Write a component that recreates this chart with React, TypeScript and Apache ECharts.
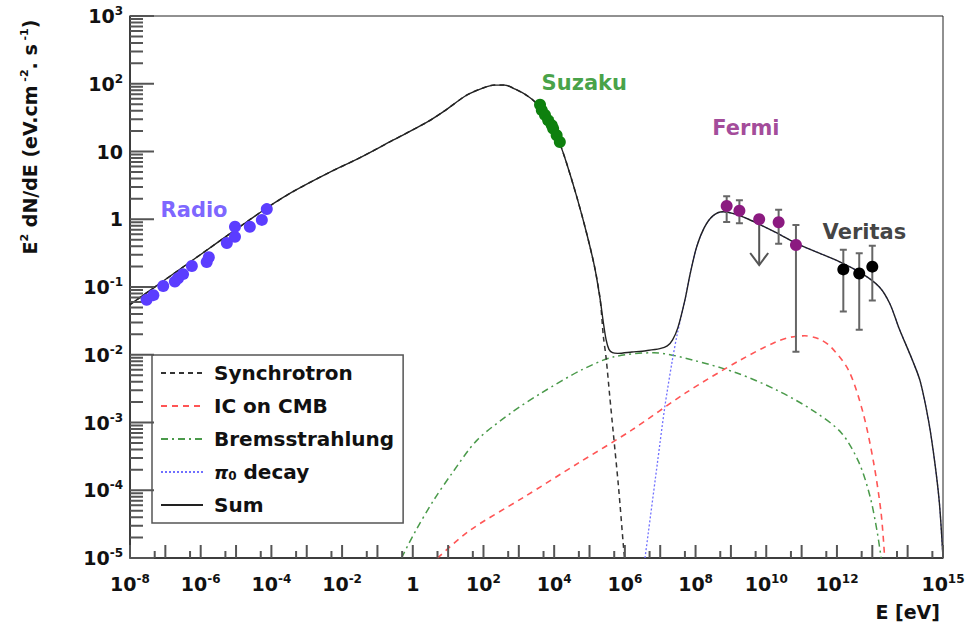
import React, { useEffect, useRef } from "react";
import * as echarts from "echarts";

// All values are decade exponents: [log10(E / eV), log10(E^2 dN/dE)]
const radioPoints = [
  [-7.53, -1.19], [-7.34, -1.12], [-7.06, -0.985], [-6.73, -0.92], [-6.64, -0.87],
  [-6.5, -0.81], [-6.25, -0.69], [-5.83, -0.63], [-5.77, -0.56], [-5.26, -0.35],
  [-5.03, -0.26], [-5.03, -0.11], [-4.61, -0.11], [-4.27, -0.01], [-4.13, 0.15],
];
const suzakuPoints = [
  [3.6, 1.69], [3.65, 1.61], [3.74, 1.54], [3.83, 1.46], [3.93, 1.39],
  [3.97, 1.34], [4.07, 1.24], [4.16, 1.14],
];
const fermiPoints = [
  [8.88, 0.195], [9.24, 0.126], [9.8, 0.0], [10.35, -0.045], [10.84, -0.38],
];
// [x, low, high]
const fermiErrors = [
  [8.88, -0.04, 0.34], [9.24, -0.06, 0.28], [10.35, -0.36, 0.14], [10.84, -1.955, -0.085],
];
// [x, from, arrow tip]
const fermiUpperLimits = [[9.8, 0.0, -0.675]];
const veritasPoints = [[12.18, -0.74], [12.63, -0.8], [13.0, -0.7]];
const veritasErrors = [[12.18, -1.36, -0.45], [12.63, -1.63, -0.5], [13.0, -1.2, -0.39]];

const sumCurve = [
  [-8, -1.26], [-7, -0.89], [-6, -0.52], [-5, -0.15], [-4.12, 0.17], [-3.38, 0.41],
  [-2.44, 0.67], [-1.49, 0.91], [-0.55, 1.17], [0.39, 1.43], [0.9, 1.6], [1.52, 1.83],
  [2.0, 1.94], [2.3, 1.98], [2.6, 1.98], [2.9, 1.92], [3.22, 1.83], [3.5, 1.71],
  [3.8, 1.5], [4.0, 1.32], [4.16, 1.12], [4.35, 0.83], [4.64, 0.33], [4.92, -0.21],
  [5.15, -0.72], [5.3, -1.18], [5.39, -1.52], [5.47, -1.78], [5.55, -1.92], [5.65, -1.97],
  [5.8, -1.98], [6.2, -1.96], [6.6, -1.94], [6.99, -1.91], [7.2, -1.87], [7.35, -1.78],
  [7.5, -1.6], [7.7, -1.19], [7.85, -0.8], [8.03, -0.41], [8.25, -0.12], [8.49, 0.05],
  [8.77, 0.11], [9.1, 0.08], [9.5, 0.0], [9.9, -0.1], [10.4, -0.23], [10.86, -0.36],
  [11.5, -0.5], [12.08, -0.63], [12.7, -0.8], [13.2, -1.0], [13.5, -1.25], [13.75, -1.6],
  [14.15, -2.1], [14.36, -2.4], [14.6, -3.0], [14.77, -3.6], [14.9, -4.2], [15, -5],
];
const synchrotronTail = [
  [5.39, -1.72], [5.47, -2.05], [5.57, -2.6], [5.67, -3.14], [5.82, -3.95], [5.96, -4.83], [5.99, -5.0],
];
const icCurve = [
  [0.7, -5], [1.62, -4.59], [3.15, -4.1], [4.68, -3.6], [6.2, -3.11], [7.73, -2.56],
  [9.26, -2.08], [10.27, -1.81], [10.7, -1.74], [11.09, -1.72], [11.5, -1.77], [11.82, -1.88],
  [12.33, -2.23], [12.74, -2.86], [13.04, -3.6], [13.25, -4.34], [13.35, -5.0],
];
const bremsCurve = [
  [-0.32, -5], [0.09, -4.59], [0.6, -4.14], [1.11, -3.75], [1.82, -3.26], [2.83, -2.84],
  [3.65, -2.56], [4.79, -2.22], [5.69, -2.03], [6.82, -1.97], [7.93, -2.08], [9.17, -2.27],
  [10.29, -2.52], [11.31, -2.82], [12.12, -3.15], [12.63, -3.6], [12.94, -4.1], [13.13, -4.59],
  [13.25, -5.0],
];
const pi0Rise = [[6.57, -5], [6.92, -3.6], [7.13, -2.77], [7.33, -2.12], [7.48, -1.7]];

const annotations = [
  { name: "Radio", value: [-7.15, 0.14], color: "#5b3dff" },
  { name: "Suzaku", value: [3.63, 2.01], color: "#178a17" },
  { name: "Fermi", value: [8.46, 1.35], color: "#8b1a80" },
  { name: "Veritas", value: [11.58, -0.19], color: "#111111" },
];

const xMin = -8, xMax = 15, yMin = -5, yMax = 3;
const xLabelExps = [-8, -6, -4, -2, 0, 2, 4, 6, 8, 10, 12, 14, 15];
const xMinorMultipliers = [5];
const yMinorMultipliers = [2, 3, 4, 5, 6, 7, 8, 9];
const legendNames = ["Synchrotron", "IC on CMB", "Bremsstrahlung", "π0 decay", "Sum"];

const FONT = "DejaVu Sans";

function powLabel(v: number): string {
  const e = Math.round(v);
  if (e === 0) return "{b|1}";
  if (e === 1) return "{b|10}";
  return "{b|10}{s|" + e + "}";
}

const tickRich = {
  b: { fontFamily: FONT, fontWeight: "bold", fontSize: 19, lineHeight: 22, color: "#111" },
  s: { fontFamily: FONT, fontWeight: "bold", fontSize: 12, lineHeight: 10, verticalAlign: "top", color: "#111" },
};

export default function App() {
  const ref = useRef<HTMLDivElement>(null);
  useEffect(() => {
    if (!ref.current) return;
    const chart = echarts.init(ref.current, undefined, { renderer: "svg" });

    // ticks: [x, y, length]
    const xTicks: number[][] = [];
    for (let k = xMin; k <= xMax; k++) {
      xTicks.push([k, yMin, 13]);
      if (k < xMax) xMinorMultipliers.forEach((m) => xTicks.push([k + Math.log10(m), yMin, 7]));
    }
    const yTicks: number[][] = [];
    for (let k = yMin; k <= yMax; k++) {
      yTicks.push([xMin, k, 24]);
      if (k < yMax) yMinorMultipliers.forEach((m) => yTicks.push([xMin, k + Math.log10(m), 13]));
    }

    const synchrotron = sumCurve.filter((p) => p[0] <= 5.3).concat(synchrotronTail);
    const pi0 = pi0Rise.concat(sumCurve.filter((p) => p[0] >= 7.7));

    const errRender = (params: any, api: any) => {
      const x = api.value(0);
      const top = api.coord([x, api.value(2)]);
      const bot = api.coord([x, api.value(1)]);
      const w = 3.5;
      const st = { stroke: "#666", lineWidth: 2 };
      return {
        type: "group",
        children: [
          { type: "line", shape: { x1: top[0], y1: top[1], x2: bot[0] + 0.001, y2: bot[1] }, style: st },
          { type: "line", shape: { x1: top[0] - w, y1: top[1], x2: top[0] + w, y2: top[1] + 0.001 }, style: st },
          { type: "line", shape: { x1: bot[0] - w, y1: bot[1], x2: bot[0] + w, y2: bot[1] + 0.001 }, style: st },
        ],
      };
    };
    const ulRender = (params: any, api: any) => {
      const x = api.value(0);
      const a = api.coord([x, api.value(1)]);
      const b = api.coord([x, api.value(2)]);
      const st = { stroke: "#555", lineWidth: 2 };
      return {
        type: "group",
        children: [
          { type: "line", shape: { x1: a[0], y1: a[1], x2: b[0] + 0.001, y2: b[1] }, style: st },
          { type: "polyline", shape: { points: [[b[0] - 9, b[1] - 12], [b[0], b[1]], [b[0] + 9, b[1] - 12]] }, style: { ...st, fill: "none" } },
        ],
      };
    };
    const xTickRender = (params: any, api: any) => {
      const p = api.coord([api.value(0), api.value(1)]);
      const len = api.value(2);
      return {
        type: "group",
        children: [
          { type: "line", shape: { x1: p[0], y1: p[1], x2: p[0] + 0.001, y2: p[1] - len }, style: { stroke: "#555555", lineWidth: 2 } },
        ],
      };
    };
    const yTickRender = (params: any, api: any) => {
      const p = api.coord([api.value(0), api.value(1)]);
      const len = api.value(2);
      return {
        type: "group",
        children: [
          { type: "line", shape: { x1: p[0], y1: p[1], x2: p[0] + len, y2: p[1] + 0.001 }, style: { stroke: "#555555", lineWidth: 2 } },
        ],
      };
    };

    const curve = (name: string, data: number[][], color: string, type: any, width: number, z: number) => ({
      name,
      type: "line",
      data,
      showSymbol: false,
      symbol: "none",
      smooth: 0.3,
      z,
      lineStyle: { color, type, width },
      itemStyle: { color },
    });

    const dots = (name: string, data: number[][], color: string) => ({
      name,
      type: "scatter",
      data,
      symbol: "circle",
      symbolSize: 12,
      z: 6,
      itemStyle: { color, opacity: 1 },
    });

    chart.setOption({
      animation: false,
      backgroundColor: "#ffffff",
      grid: { left: 130, right: 33, top: 16, bottom: 71, show: true, borderColor: "#222", borderWidth: 1, backgroundColor: "transparent" },
      xAxis: {
        type: "value", min: xMin, max: xMax, interval: 1, position: "bottom",
        axisLine: { show: true, onZero: false, lineStyle: { color: "#222", width: 1.5 } },
        axisTick: { show: false },
        splitLine: { show: false },
        axisLabel: {
          show: true, margin: 15, showMinLabel: true, showMaxLabel: true,
          formatter: (v: number) => (xLabelExps.indexOf(Math.round(v)) >= 0 ? powLabel(v) : ""),
          rich: tickRich,
        },
      },
      yAxis: {
        type: "value", min: yMin, max: yMax, interval: 1, position: "left",
        axisLine: { show: true, onZero: false, lineStyle: { color: "#222", width: 1.5 } },
        axisTick: { show: false },
        splitLine: { show: false },
        axisLabel: { show: true, margin: 7, showMinLabel: true, showMaxLabel: true, formatter: (v: number) => powLabel(v), rich: tickRich },
      },
      legend: {
        orient: "vertical",
        left: 152,
        top: 355,
        data: legendNames,
        itemWidth: 42,
        itemHeight: 14,
        itemGap: 13,
        padding: [8, 9, 8, 8],
        borderColor: "#555",
        borderWidth: 1.5,
        backgroundColor: "#ffffff",
        selectedMode: false,
        itemStyle: { color: "rgba(0,0,0,0)", borderWidth: 0, opacity: 0 },
        textStyle: {
          fontFamily: FONT, fontWeight: "bold", fontSize: 20, lineHeight: 20, color: "#111", padding: [0, 0, 0, 6],
          rich: {
            pi: { fontFamily: FONT, fontSize: 18, fontStyle: "italic", color: "#111", lineHeight: 20 },
            sub: { fontFamily: FONT, fontSize: 12, color: "#111", verticalAlign: "bottom", lineHeight: 14 },
            t: { fontFamily: FONT, fontWeight: "bold", fontSize: 20, color: "#111", lineHeight: 20 },
          },
        },
        formatter: (name: string) => (name === "π0 decay" ? "{pi|π}{sub|0}{t| decay}" : name),
      },
      graphic: [
        {
          type: "text",
          x: 30,
          y: 137,
          rotation: Math.PI / 2,
          style: {
            text: "{b|E}{s|2}{b| dN/dE (eV.cm}{s| -2}{b|. s}{s| -1}{b|)}",
            align: "center",
            verticalAlign: "middle",
            rich: {
              b: { fontFamily: FONT, fontWeight: "bold", fontSize: 19, lineHeight: 22, fill: "#111" },
              s: { fontFamily: FONT, fontWeight: "bold", fontSize: 11, lineHeight: 10, verticalAlign: "top", fill: "#111" },
            },
          },
        },
        {
          type: "text",
          x: 940,
          y: 612,
          style: { text: "E [eV]", align: "right", verticalAlign: "middle", fontFamily: FONT, fontWeight: "bold", fontSize: 19, fill: "#111" },
        },
      ],
      series: [
        { name: "x ticks", type: "custom", z: 5, renderItem: xTickRender, encode: { x: 0, y: 1 }, data: xTicks },
        { name: "y ticks", type: "custom", z: 5, renderItem: yTickRender, encode: { x: 0, y: 1 }, data: yTicks },
        curve("Bremsstrahlung", bremsCurve, "#4a9a4a", [7, 4, 2, 4], 1.5, 2),
        curve("IC on CMB", icCurve, "#ff5555", [6, 5], 1.6, 2),
        curve("π0 decay", pi0, "#7070ff", [2, 2], 1.3, 2),
        curve("Synchrotron", synchrotron, "#333333", [5, 4], 1.5, 2),
        curve("Sum", sumCurve, "#222222", "solid", 1.4, 3),
        {
          name: "errors", type: "custom", z: 4,
          renderItem: errRender, encode: { x: 0, y: [1, 2] },
          data: fermiErrors.concat(veritasErrors),
        },
        {
          name: "upper limits", type: "custom", z: 4,
          renderItem: ulRender, encode: { x: 0, y: [1, 2] },
          data: fermiUpperLimits,
        },
        dots("Radio", radioPoints, "#5b3dff"),
        dots("Suzaku", suzakuPoints, "#0e800e"),
        dots("Fermi", fermiPoints, "#8b1a80"),
        dots("Veritas", veritasPoints, "#000000"),
        {
          name: "labels", type: "scatter", z: 7,
          symbolSize: 1, itemStyle: { color: "rgba(0,0,0,0)" },
          data: annotations.map((a) => ({
            name: a.name, value: a.value,
            label: { color: a.color },
          })),
          label: {
            show: true, position: "right", distance: 0, formatter: "{b}",
            fontFamily: FONT, fontWeight: "bold", fontSize: 21,
          },
        },
      ],
    });
    return () => chart.dispose();
  }, []);
  return <div ref={ref} style={{ position: "fixed", left: 0, top: 0, width: 976, height: 629, background: "#fff" }} />;
}
